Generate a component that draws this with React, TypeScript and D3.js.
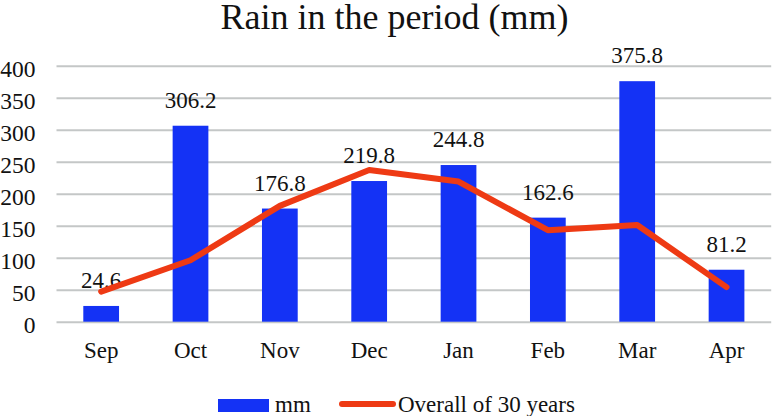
import React, { useEffect, useRef } from "react";
import * as d3 from "d3";

const months = ["Sep", "Oct", "Nov", "Dec", "Jan", "Feb", "Mar", "Apr"];
const rainMm = [24.6, 306.2, 176.8, 219.8, 244.8, 162.6, 375.8, 81.2];
const overall30 = [47, 96, 181, 237, 219, 143, 151, 54];
const yTicks = [0, 50, 100, 150, 200, 250, 300, 350, 400];

const W = 773;
const H = 416;
const FONT = "Liberation Serif, Times New Roman, serif";
const BLUE = "#1432F5";
const RED = "#EE3A14";
const INK = "#111";

const App = () => {
  const svgRef = useRef<SVGSVGElement>(null);

  useEffect(() => {
    document.body.style.margin = "0";
    const svg = d3.select(svgRef.current);
    svg.selectAll("*").remove();

    const left = 56.5;
    const right = 771.2;
    const top = 65.7;
    const bottom = 321.7;

    const x = d3.scaleBand<string>().domain(months).range([left, right]).paddingInner(0).paddingOuter(0);
    const y = d3.scaleLinear().domain([0, 400]).range([bottom, top]);
    const barW = x.bandwidth() * 0.4;
    const cx = (m: string) => (x(m) as number) + x.bandwidth() / 2;

    // title
    svg
      .append("text")
      .attr("x", 394.5)
      .attr("y", 29)
      .attr("text-anchor", "middle")
      .attr("font-family", FONT)
      .attr("font-size", 36)
      .attr("fill", INK)
      .text("Rain in the period (mm)");

    // gridlines + y tick labels
    const yAxis = d3
      .axisLeft(y)
      .tickValues(yTicks)
      .tickSize(-(right - left))
      .tickPadding(21)
      .tickFormat(d3.format("d"));

    const g = svg
      .append("g")
      .attr("transform", `translate(${left},0)`)
      .call(yAxis)
      .attr("font-family", FONT)
      .attr("font-size", 23);
    g.select(".domain").remove();
    g.selectAll(".tick line").attr("stroke", "#C4C7C7").attr("stroke-width", 2);
    g.selectAll(".tick text")
      .attr("font-family", FONT)
      .attr("font-size", 23.5)
      .attr("fill", INK)
      .attr("dy", "0.35em")
      .attr("transform", "translate(0,2.5)");

    // category labels
    svg
      .append("g")
      .selectAll("text")
      .data(months)
      .enter()
      .append("text")
      .attr("x", (d) => cx(d))
      .attr("y", 358)
      .attr("text-anchor", "middle")
      .attr("font-family", FONT)
      .attr("font-size", 23)
      .attr("fill", INK)
      .text((d) => d);

    // bars
    svg
      .append("g")
      .selectAll("rect")
      .data(rainMm)
      .enter()
      .append("rect")
      .attr("x", (d, i) => cx(months[i]) - barW / 2)
      .attr("y", (d) => y(d))
      .attr("width", barW)
      .attr("height", (d) => bottom - y(d))
      .attr("fill", BLUE);

    // bar value labels
    svg
      .append("g")
      .selectAll("text")
      .data(rainMm)
      .enter()
      .append("text")
      .attr("x", (d, i) => cx(months[i]))
      .attr("y", (d) => y(d) - 17.8)
      .attr("text-anchor", "middle")
      .attr("font-family", FONT)
      .attr("font-size", 23)
      .attr("fill", INK)
      .text((d) => d.toFixed(1));

    // 30-year line
    const line = d3
      .line<number>()
      .x((d, i) => cx(months[i]))
      .y((d) => y(d));

    svg
      .append("path")
      .datum(overall30)
      .attr("d", line)
      .attr("fill", "none")
      .attr("stroke", RED)
      .attr("stroke-width", 6)
      .attr("stroke-linecap", "round")
      .attr("stroke-linejoin", "round");

    // legend
    const lg = svg.append("g").attr("font-family", FONT).attr("font-size", 23).attr("fill", INK);
    lg.append("rect").attr("x", 218).attr("y", 399).attr("width", 51).attr("height", 13).attr("fill", BLUE);
    lg.append("text").attr("x", 275).attr("y", 412).text("mm");
    lg.append("line")
      .attr("x1", 342)
      .attr("x2", 393)
      .attr("y1", 404)
      .attr("y2", 404)
      .attr("stroke", RED)
      .attr("stroke-width", 6)
      .attr("stroke-linecap", "round");
    lg.append("text").attr("x", 398).attr("y", 412).text("Overall of 30 years");
  }, []);

  return (
    <svg
      ref={svgRef}
      width={W}
      height={H}
      style={{ display: "block", background: "#fff", fontFamily: FONT }}
    ></svg>
  );
};

export default App;
